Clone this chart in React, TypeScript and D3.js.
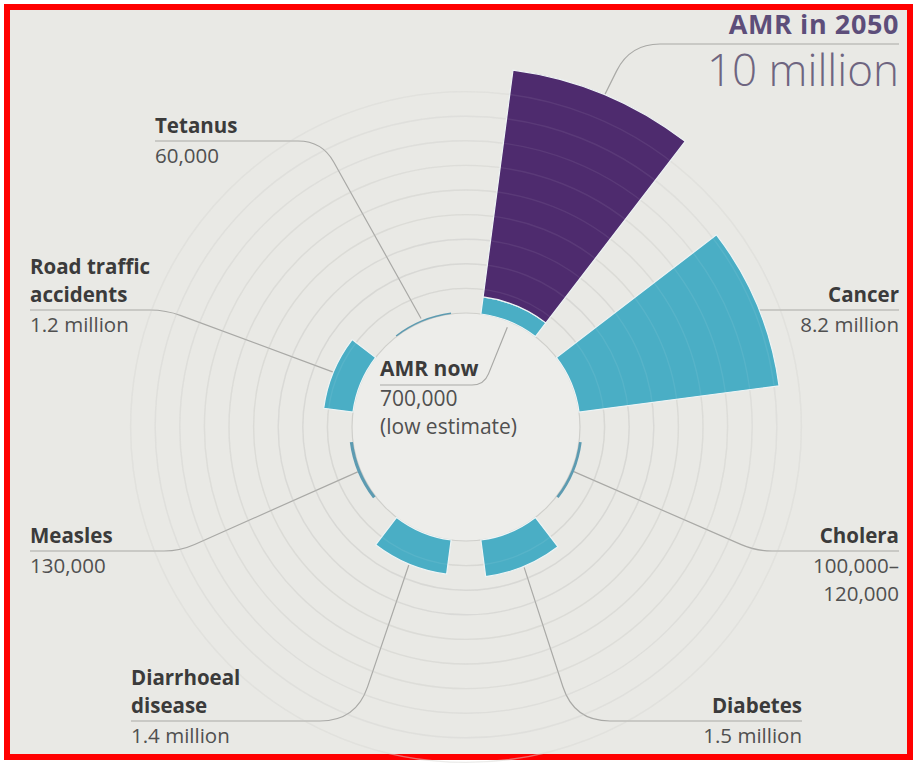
import React from "react";
import * as d3 from "d3";

// ---------- data ----------
const categories = [
  "AMR in 2050",
  "Cancer",
  "Cholera",
  "Diabetes",
  "Diarrhoeal disease",
  "Measles",
  "Road traffic accidents",
  "Tetanus",
];
const deathsMillions = [10, 8.2, 0.11, 1.5, 1.4, 0.13, 1.2, 0.06];
const amrNowMillions = 0.7;
const nameLines = [
  ["AMR in 2050"],
  ["Cancer"],
  ["Cholera"],
  ["Diabetes"],
  ["Diarrhoeal", "disease"],
  ["Measles"],
  ["Road traffic", "accidents"],
  ["Tetanus"],
];
const valueLines = [
  ["10 million"],
  ["8.2 million"],
  ["100,000–", "120,000"],
  ["1.5 million"],
  ["1.4 million"],
  ["130,000"],
  ["1.2 million"],
  ["60,000"],
];
const ringTicks = [0, 1, 2, 3, 4, 5, 6, 7, 8, 9];
const amrNowLines = ["AMR now", "700,000", "(low estimate)"];

// ---------- layout / style ----------
const W = 917;
const H = 764;
const cx = 466;
const cy = 427;
const FONT = "'Open Sans', 'Noto Sans', sans-serif";
const BG = "#e9e9e5";
const CYAN = "#4aaec5";
const THIN = "#5d9bb1";
const PURPLE = "#4e2b6e";
const LINE = "#a9a9a6";
const NAME_C = "#3b3b3b";
const VAL_C = "#505050";
const NAME_LH = 28;
const VAL_LH = 28;

type LabelCfg = {
  x: number;
  anchor: "start" | "end";
  ruleY: number;
  corner: number | null;
  rad: number;
  rOff: number;
};
const labelLayout: Record<string, LabelCfg> = {
  Cancer: { x: 899, anchor: "end", ruleY: 310, corner: null, rad: 0, rOff: -20 },
  Cholera: { x: 899, anchor: "end", ruleY: 551, corner: 756, rad: 16, rOff: 0 },
  Diabetes: { x: 802, anchor: "end", ruleY: 721, corner: 574, rad: 36, rOff: 1 },
  "Diarrhoeal disease": { x: 131, anchor: "start", ruleY: 721, corner: 356, rad: 36, rOff: 1 },
  Measles: { x: 30, anchor: "start", ruleY: 551, corner: 180, rad: 16, rOff: 0 },
  "Road traffic accidents": { x: 30, anchor: "start", ruleY: 310, corner: 166, rad: 16, rOff: -2 },
  Tetanus: { x: 155, anchor: "start", ruleY: 141, corner: 322, rad: 24, rOff: 2 },
};

// ---------- scales ----------
const angle = d3
  .scaleBand<string>()
  .domain(categories)
  .range([0, 2 * Math.PI])
  .paddingInner(1 / 3)
  .paddingOuter(1 / 6);
const radius = d3.scaleLinear().domain([0, 10]).range([114, 360]);

const polar = (a: number, r: number): [number, number] => [
  cx + r * Math.sin(a),
  cy - r * Math.cos(a),
];
const mid = (c: string) => (angle(c) as number) + angle.bandwidth() / 2;

const arcGen = d3.arc<{ c: string; v0: number; v1: number }>()
  .innerRadius((d) => radius(d.v0))
  .outerRadius((d) => radius(d.v1))
  .startAngle((d) => angle(d.c) as number)
  .endAngle((d) => (angle(d.c) as number) + angle.bandwidth());

function elbow(x0: number, y: number, xc: number, ex: number, ey: number, rad: number) {
  const dirH = Math.sign(xc - x0);
  const p1x = xc - dirH * rad;
  const dx = ex - xc;
  const dy = ey - y;
  const len = Math.hypot(dx, dy);
  const p2x = xc + (dx / len) * rad;
  const p2y = y + (dy / len) * rad;
  return `M${x0},${y}H${p1x}Q${xc},${y} ${p2x},${p2y}L${ex},${ey}`;
}

export default function App() {
  const amrIdx = 0;
  const amrCat = categories[amrIdx];
  const amrMid = mid(amrCat);

  const segs: { c: string; v0: number; v1: number; fill: string }[] = [];
  categories.forEach((c, i) => {
    const v = deathsMillions[i];
    if (i === amrIdx) {
      segs.push({ c, v0: 0, v1: amrNowMillions, fill: CYAN });
      segs.push({ c, v0: amrNowMillions, v1: v, fill: PURPLE });
    } else {
      segs.push({ c, v0: 0, v1: v, fill: v < 0.5 ? THIN : CYAN });
    }
  });

  const leaders: string[] = [];
  categories.forEach((c, i) => {
    const cfg = labelLayout[c];
    if (!cfg) return;
    const [ex, ey] = polar(mid(c), radius(deathsMillions[i]) + cfg.rOff);
    if (cfg.corner === null) {
      leaders.push(`M${cfg.x},${cfg.ruleY}H${ex}`);
    } else {
      leaders.push(elbow(cfg.x, cfg.ruleY, cfg.corner, ex, ey, cfg.rad));
    }
  });
  const [ax, ay] = polar(amrMid, radius(deathsMillions[amrIdx]) - 15);
  leaders.push(elbow(899, 44, 630, ax, ay, 30));
  const [nx, ny] = polar(amrMid, radius(0) - 6);
  const amrNowLeader = elbow(380, 385, 484, nx, ny, 12);

  return (
    <svg
      width={W}
      height={H}
      viewBox={`0 0 ${W} ${H}`}
      style={{ position: "absolute", left: 0, top: 0, display: "block" }}
    >
      <rect x={0} y={0} width={W} height={H} fill="#ffffff" />
      <rect x={7} y={7} width={W - 14} height={H - 14} fill={BG} stroke="#ff0000" strokeWidth={6} />

      {/* rings */}
      <circle cx={cx} cy={cy} r={radius(0)} fill="#ededea" stroke="#cfcfcb" strokeWidth={1.2} />
      {ringTicks.slice(1).map((t) => (
        <circle
          key={t}
          cx={cx}
          cy={cy}
          r={radius(t)}
          fill="none"
          stroke="#d3d3cf"
          strokeOpacity={1 - t * 0.06}
          strokeWidth={1.4}
        />
      ))}

      {/* leader lines */}
      {leaders.map((d, i) => (
        <path key={i} d={d} fill="none" stroke={LINE} strokeWidth={1.2} />
      ))}

      {/* bars */}
      <g transform={`translate(${cx},${cy})`}>
        {segs.map((s, i) => (
          <path
            key={i}
            d={arcGen(s) || ""}
            fill={s.fill}
            stroke={s.v1 - s.v0 > 0.5 ? "#eef4f5" : "none"}
            strokeWidth={1.2}
          />
        ))}
        {ringTicks.slice(1).map((t) => (
          <circle key={t} r={radius(t)} fill="none" stroke="#ffffff" strokeOpacity={0.07} strokeWidth={1.4} />
        ))}
      </g>

      <path d={amrNowLeader} fill="none" stroke={LINE} strokeWidth={1.2} />

      {/* category labels */}
      {categories.map((c, i) => {
        const cfg = labelLayout[c];
        if (!cfg) return null;
        const names = nameLines[i];
        const vals = valueLines[i];
        return (
          <g key={c} fontFamily={FONT} textAnchor={cfg.anchor}>
            {names.map((t, j) => (
              <text
                key={"n" + j}
                x={cfg.x}
                y={cfg.ruleY - 8 - (names.length - 1 - j) * NAME_LH}
                fontSize={20.5}
                fontWeight={700}
                fill={NAME_C}
              >
                {t}
              </text>
            ))}
            {vals.map((t, j) => (
              <text
                key={"v" + j}
                x={cfg.x}
                y={cfg.ruleY + 22 + j * VAL_LH}
                fontSize={20.5}
                fill={VAL_C}
              >
                {t}
              </text>
            ))}
          </g>
        );
      })}

      {/* AMR in 2050 */}
      <text x={899} y={34} textAnchor="end" fontFamily={FONT} fontSize={27} fontWeight={700} fill="#5d4e7a" letterSpacing={0.6}>
        {nameLines[amrIdx][0]}
      </text>
      <text x={899} y={86} textAnchor="end" fontFamily={FONT} fontSize={44} fontWeight={300} fill="#6e6580">
        {valueLines[amrIdx][0]}
      </text>

      {/* AMR now */}
      <text x={380} y={376} fontFamily={FONT} fontSize={21} fontWeight={700} fill={NAME_C}>
        {amrNowLines[0]}
      </text>
      <text x={380} y={406} fontFamily={FONT} fontSize={21} fill={VAL_C}>
        {amrNowLines[1]}
      </text>
      <text x={380} y={434} fontFamily={FONT} fontSize={21} fill={VAL_C}>
        {amrNowLines[2]}
      </text>
    </svg>
  );
}
